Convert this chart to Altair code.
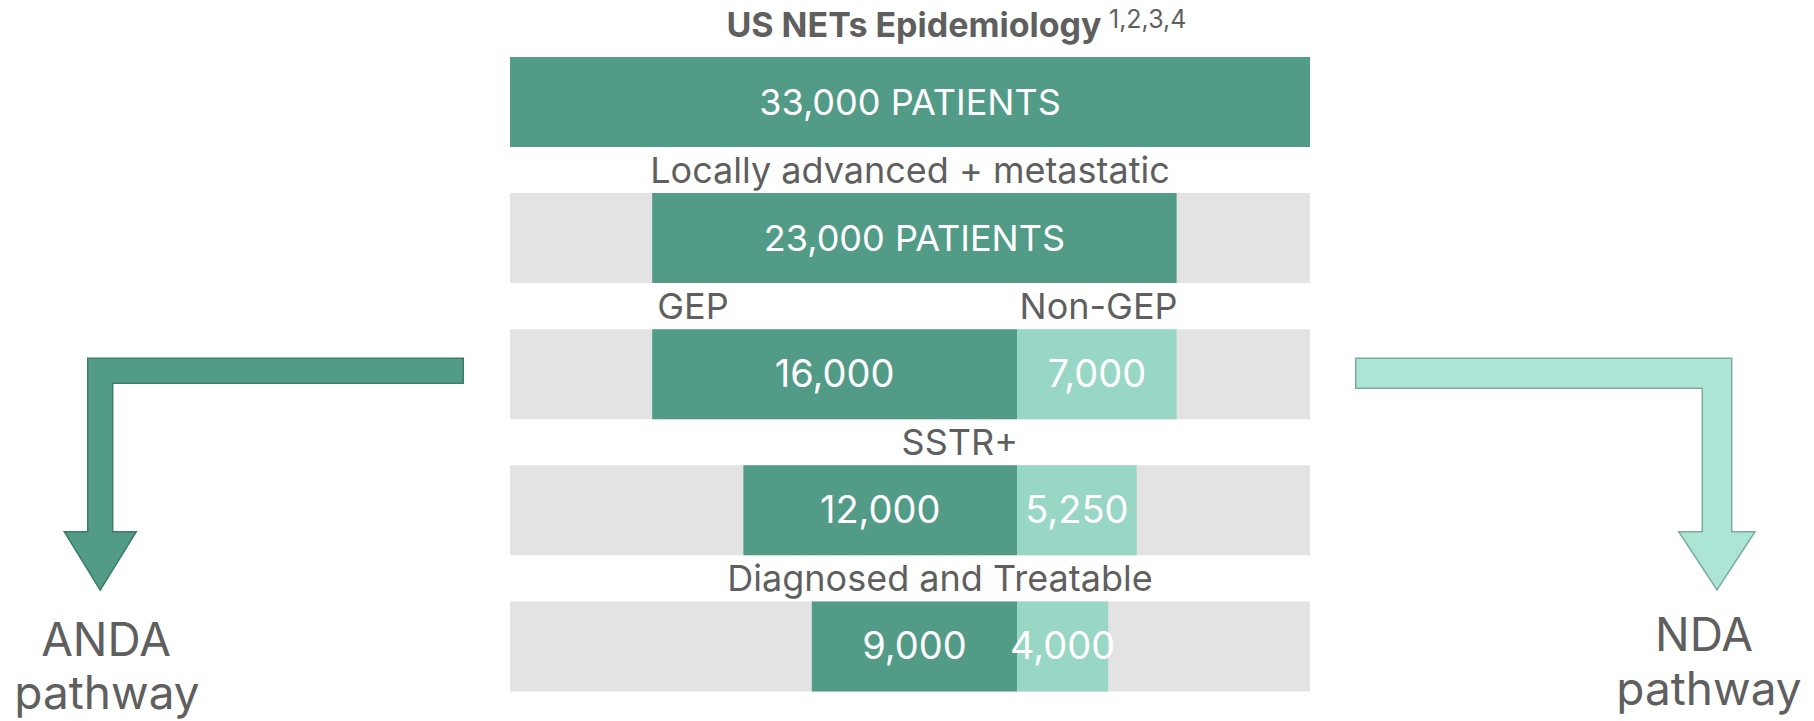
import altair as alt
import pandas as pd

# ---------------- data ----------------
title_text = "US NETs Epidemiology"
title_refs = "1,2,3,4"

total_patients = 33000
total_label = "33,000 PATIENTS"
advanced_label = "23,000 PATIENTS"

row_ids = [1, 2, 3, 4, 5]
gep_values = [16000, 12000, 9000]        # rows 3-5, dark segments (left of split)
non_gep_values = [7000, 5250, 4000]      # rows 3-5, light segments (right of split)
gep_labels = ["16,000", "12,000", "9,000"]
non_gep_labels = ["7,000", "5,250", "4,000"]

gap_labels = ["Locally advanced + metastatic", "GEP", "Non-GEP", "SSTR+", "Diagnosed and Treatable"]
pathway_lines = [["ANDA", "pathway"], ["NDA", "pathway"]]

# ---------------- colours ----------------
DARK = "#519b87"
LIGHT = "#98d6c5"
PANEL = "#e3e3e3"
TEXT = "#5f5f5f"
FONT = "Inter"
TEXT_SIZE = 36
NUM_SIZE = 38

# ---------------- layout (pixels, chart coordinates) ----------------
W, H = 1798, 713
PANEL_LEFT, PANEL_RIGHT = 502, 1302
SPLIT_X = 1009
PX_PER_PATIENT = 0.0228
x_domain = [(PANEL_LEFT - SPLIT_X) / PX_PER_PATIENT, (PANEL_RIGHT - SPLIT_X) / PX_PER_PATIENT]
x_scale = alt.Scale(domain=x_domain, range=[PANEL_LEFT, PANEL_RIGHT], zero=False, nice=False)
y_scale = alt.Scale(type="band", domain=row_ids, range=[49, 683.4], paddingInner=0.3387, paddingOuter=0)
GAP_DY = -68 + 2

# ---------------- tables built from the arrays ----------------
panel_df = pd.DataFrame({"row": row_ids[1:], "start": x_domain[0], "end": x_domain[1]})

seg_rows, seg_start, seg_end, seg_fill, seg_label, seg_num = [], [], [], [], [], []
# row 1: whole population across the panel
seg_rows.append(1); seg_start.append(x_domain[0]); seg_end.append(x_domain[1])
seg_fill.append(DARK); seg_label.append(total_label); seg_num.append(False)
# row 2: locally advanced + metastatic = GEP + non-GEP
seg_rows.append(2); seg_start.append(-gep_values[0]); seg_end.append(non_gep_values[0])
seg_fill.append(DARK); seg_label.append(advanced_label); seg_num.append(False)
for r, g, n, gl, nl in zip(row_ids[2:], gep_values, non_gep_values, gep_labels, non_gep_labels):
    seg_rows += [r, r]
    seg_start += [-g, 0]
    seg_end += [0, n]
    seg_fill += [DARK, LIGHT]
    seg_label += [gl, nl]
    seg_num += [True, True]
seg_df = pd.DataFrame({"row": seg_rows, "start": seg_start, "end": seg_end,
                       "fill": seg_fill, "label": seg_label, "num": seg_num})
seg_df["mid"] = (seg_df["start"] + seg_df["end"]) / 2

Y = alt.Y("row:O", scale=y_scale, axis=None)

panel = alt.Chart(panel_df).mark_bar(color=PANEL).encode(
    x=alt.X("start:Q", scale=x_scale, axis=None), x2="end:Q", y=Y)

bars = alt.Chart(seg_df).mark_bar().encode(
    x=alt.X("start:Q", scale=x_scale, axis=None), x2="end:Q", y=Y,
    fill=alt.Fill("fill:N", scale=None))

bar_text_words = alt.Chart(seg_df[~seg_df["num"]]).mark_text(
    font=FONT, fontSize=TEXT_SIZE, color="white", baseline="middle", dy=2).encode(
    x=alt.X("mid:Q", scale=x_scale, axis=None), y=Y, text="label:N")

bar_text_nums = alt.Chart(seg_df[seg_df["num"]]).mark_text(
    font=FONT, fontSize=NUM_SIZE, color="white", baseline="middle", dy=2).encode(
    x=alt.X("mid:Q", scale=x_scale, axis=None), y=Y, text="label:N")


def label_layer(text, row, align, x_enc, xv=0.0, dx=0):
    return alt.Chart(pd.DataFrame({"t": [text], "row": [row], "xv": [xv]})).mark_text(
        font=FONT, fontSize=TEXT_SIZE, color=TEXT, align=align, baseline="middle",
        dy=GAP_DY, dx=dx).encode(x=x_enc, y=Y, text="t:N")


XV = alt.X("xv:Q", scale=x_scale, axis=None)
lbl_locally = label_layer(gap_labels[0], 2, "center", alt.value((PANEL_LEFT + PANEL_RIGHT) / 2))
lbl_gep = label_layer(gap_labels[1], 3, "left", XV, xv=-gep_values[0], dx=5)
lbl_nongep = label_layer(gap_labels[2], 3, "right", XV, xv=non_gep_values[0], dx=1)
lbl_sstr = label_layer(gap_labels[3], 4, "right", XV, xv=0, dx=1)
lbl_diag = label_layer(gap_labels[4], 5, "center", alt.value(932))

title = alt.Chart(pd.DataFrame({"t": [title_text]})).mark_text(
    font=FONT, fontSize=34, fontWeight="bold", color=TEXT, align="center", baseline="alphabetic").encode(
    x=alt.value(906), y=alt.value(29), text="t:N")

refs = alt.Chart(pd.DataFrame({"t": [title_refs]})).mark_text(
    font=FONT, fontSize=25, color=TEXT, align="left", baseline="alphabetic").encode(
    x=alt.value(1101), y=alt.value(20), text="t:N")

# ---------------- arrows (decorative shapes, pixel paths) ----------------
left_arrow = ("M 455.3 350.3 L 79.7 350.3 L 79.7 523.7 L 56.3 523.7 L 92.2 582 "
              "L 128.3 523.7 L 104.7 523.7 L 104.7 375.3 L 455.3 375.3 Z")
right_arrow = ("M 1347.7 350.3 L 1723.7 350.3 L 1723.7 523.7 L 1747 523.7 L 1709 582 "
               "L 1670.7 523.7 L 1694.3 523.7 L 1694.3 380.3 L 1347.7 380.3 Z")
arrow_df = pd.DataFrame({
    "path": [left_arrow, right_arrow],
    "fill": [DARK, "#ace4d6"],
    "stroke": ["#3f7c69", "#7eab9d"],
})
arrows = alt.Chart(arrow_df).mark_point(size=4, filled=True, strokeWidth=1.5, opacity=1).encode(
    x=alt.value(0), y=alt.value(0),
    shape=alt.Shape("path:N", scale=None),
    fill=alt.Fill("fill:N", scale=None),
    stroke=alt.Stroke("stroke:N", scale=None),
)

path_x = [[98, 99], [1696, 1701]]
path_y = [[648, 701], [643, 697]]
pw_rows = []
for lines, xs, ys in zip(pathway_lines, path_x, path_y):
    for line, px, py in zip(lines, xs, ys):
        pw_rows.append({"t": line, "px": px, "py": py})
pw_df = pd.DataFrame(pw_rows)
pathway_text = alt.Chart(pw_df).mark_text(
    font=FONT, fontSize=46, color=TEXT, align="center", baseline="alphabetic").encode(
    x=alt.X("px:Q", scale=None, axis=None),
    y=alt.Y("py:Q", scale=None, axis=None),
    text="t:N",
)

chart = alt.layer(
    panel, bars, bar_text_words, bar_text_nums,
    lbl_locally, lbl_gep, lbl_nongep, lbl_sstr, lbl_diag,
    title, refs, arrows, pathway_text,
).resolve_scale(x="independent", y="independent").properties(
    width=W, height=H, padding=0, autosize=alt.AutoSizeParams(type="none"),
    background="white",
).configure_view(stroke=None)

chart.save("out.html", embed_options={"renderer": "svg", "actions": False})
